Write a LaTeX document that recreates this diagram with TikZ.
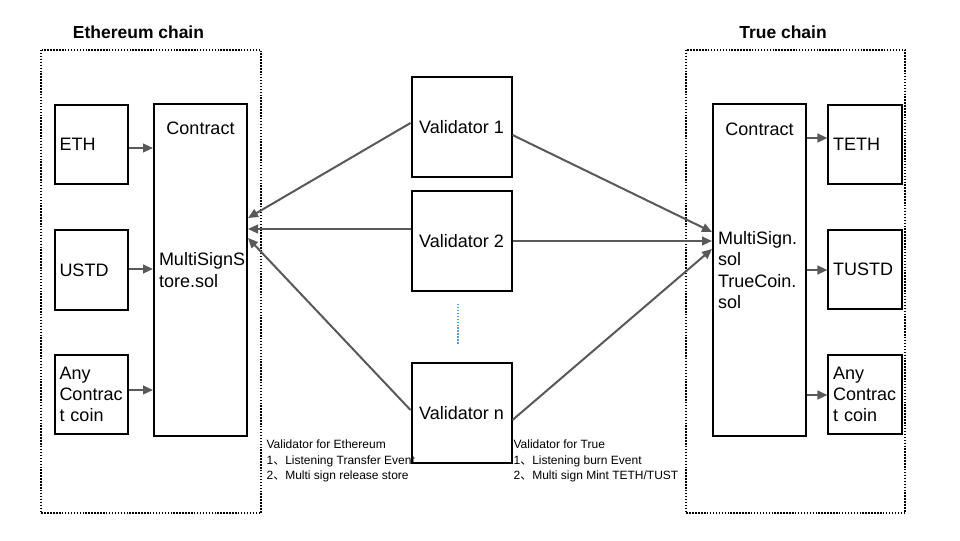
\documentclass[tikz,border=0pt]{standalone}
\usepackage{fontspec}
\setmainfont{Liberation Sans}
\newfontfamily\cjk{Noto Sans CJK SC}
\usetikzlibrary{arrows.meta}
\definecolor{arrowgray}{RGB}{89,89,89}
\definecolor{dotblue}{RGB}{91,155,213}
\tikzset{
  coinbox/.style={draw, line width=1.5pt, inner xsep=3.4pt, inner ysep=0pt,
    text width=48pt, minimum height=59.5pt, align=left,
    font=\fontsize{13.5}{16}\selectfont},
  contractbox/.style={draw, line width=1.5pt, inner xsep=3.75pt,
    text width=62.25pt, minimum height=249pt, align=left,
    font=\fontsize{13.5}{16}\selectfont},
  valbox/.style={draw, line width=1.5pt, minimum width=75pt,
    minimum height=75pt, inner sep=0pt, font=\fontsize{13.5}{16}\selectfont},
  boxtext/.style={font=\fontsize{13.5}{16}\selectfont},
  chaintitle/.style={font=\bfseries\fontsize{13.1}{16}\selectfont},
  chainframe/.style={draw, line width=1.1pt, dash pattern=on 1.1pt off 1.1pt},
  note/.style={align=left, anchor=west, inner xsep=1pt,
    font=\fontsize{9}{11.8}\selectfont},
  arr/.style={draw=arrowgray, line width=1.5pt,
    -{Triangle[length=7.5pt,width=6.5pt]}}
}

\begin{document}
\begin{tikzpicture}[x=0.75pt,y=-0.75pt]
        \fill [white] (0,0) rectangle (960,540);
        \useasboundingbox (0,0) rectangle (960,540);

        %Ethereum chain
        \node [chaintitle] (ethtitle) at (138.5,32) {Ethereum chain};
        \draw [chainframe] (41,50) rectangle (261,513);
        \node [coinbox] (ethb)  at (91.5,144.5) {ETH};
        \node [coinbox] (ustdb) at (91.5,270)   {USTD};
        \node [coinbox] (anyb)  at (91.5,394.5) {Any\\Contrac\\t coin};
        \node [contractbox] (ecn) at (200.5,270) {MultiSignS\\tore.sol};
        \node [boxtext] (ectitle) at (200.5,128) {Contract};
        \draw [arr] (ethb.east |- 0,148)  -- (ecn.west |- 0,148);
        \draw [arr] (ustdb.east |- 0,269) -- (ecn.west |- 0,269);
        \draw [arr] (anyb.east |- 0,390)  -- (ecn.west |- 0,390);

        %True chain
        \node [chaintitle] (truetitle) at (783,32) {True chain};
        \draw [chainframe] (686,50) rectangle (905,513);
        \node [contractbox] (tcn) at (759.5,270) {MultiSign.\\sol\\TrueCoin.\\sol};
        \node [boxtext] (tctitle) at (759.5,129) {Contract};
        \node [coinbox] (tethb)  at (865,144.5) {TETH};
        \node [coinbox] (tustdb) at (865,269.5) {TUSTD};
        \node [coinbox] (tanyb)  at (865,394.5) {Any\\Contrac\\t coin};
        \draw [arr] (tcn.east |- 0,138) -- (tethb.west |- 0,138);
        \draw [arr] (tcn.east |- 0,270) -- (tustdb.west |- 0,270);
        \draw [arr] (tcn.east |- 0,395) -- (tanyb.west |- 0,395);

        %Validators
        \node [valbox] (v1) at (461.5,127) {Validator 1};
        \node [valbox] (v2) at (461.5,241) {Validator 2};
        \node [valbox] (vn) at (461.5,413) {Validator n};
        \draw [dotblue, line width=1.1pt, dash pattern=on 1.1pt off 1.1pt]
              (458,304) -- (458,345);                          % ...
        \draw [arr] (v1.west |- 0,123) -- (ecn.east |- 0,218);
        \draw [arr] (v2.west |- 0,229) -- (ecn.east |- 0,229);
        \draw [arr] (vn.west |- 0,410) -- (ecn.east |- 0,238);
        \draw [arr] (v1.east |- 0,135) -- (tcn.west |- 0,232);
        \draw [arr] (v2.east |- 0,241) -- (tcn.west |- 0,241);
        \draw [arr] (vn.east |- 0,420) -- (tcn.west |- 0,249);

        %Notes
        \node [note] (ethnote) at (265,461) {Validator for Ethereum\\
          1{\cjk 、}Listening Transfer Event\\
          2{\cjk 、}Multi sign release store};
        \node [note] (truenote) at (512,461) {Validator for True\\
          1{\cjk 、}Listening burn Event\\
          2{\cjk 、}Multi sign Mint TETH/TUST};
\end{tikzpicture}
\end{document}
